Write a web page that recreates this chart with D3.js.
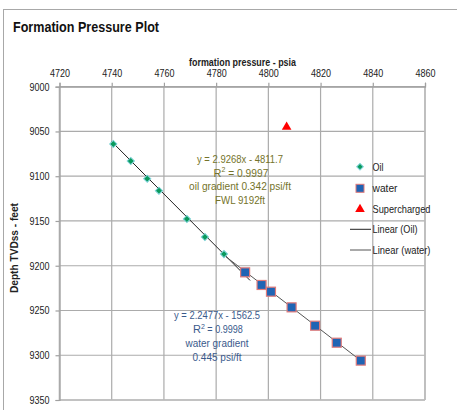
<!DOCTYPE html>
<html><head><meta charset="utf-8">
<script src="https://cdn.jsdelivr.net/npm/d3@7"></script>
<style>
body{margin:0;background:#fff;}
svg{display:block;font-family:"Liberation Sans",Arial,sans-serif;}
</style></head>
<body>
<svg id="chart" width="457" height="410"></svg>
<script>
const xTicks = [4720,4740,4760,4780,4800,4820,4840,4860];
const yTicks = [9000,9050,9100,9150,9200,9250,9300,9350];
const oilPressure = [4740.6,4747.3,4753.6,4758.1,4768.8,4775.7,4783.0];
const oilDepth    = [9064,9083,9102.8,9116.2,9147.8,9167.9,9187];
const waterPressure = [4791.1,4797.4,4801.0,4808.9,4817.9,4826.2,4835.4];
const waterDepth    = [9207.4,9221.5,9229,9246.5,9267,9286,9306];
const superPressure = [4807];
const superDepth    = [9045];
const oilFit = {slope:2.9268, intercept:-4811.7, from:4740, to:4793};
const waterFit = {slope:2.2477, intercept:-1562.5, from:4783, to:4837};
const oilText = ["y = 2.9268x - 4811.7","R² = 0.9997","oil gradient 0.342 psi/ft","FWL 9192ft"];
const waterText = ["y = 2.2477x - 1562.5","R² = 0.9998","water gradient","0.445 psi/ft"];
const legendItems = ["Oil","water","Supercharged","Linear (Oil)","Linear (water)"];

const svg = d3.select("#chart");
const x = d3.scaleLinear().domain([4720,4860]).range([59.5,425]);
const y = d3.scaleLinear().domain([9000,9350]).range([86.7,400]);

function fitText(sel, w){ return sel.attr("textLength",w).attr("lengthAdjust","spacingAndGlyphs"); }

// outer frame
svg.append("rect").attr("x",3.5).attr("y",9.5).attr("width",470).attr("height",420)
  .attr("fill","none").attr("stroke","#a8a8a8").attr("stroke-width",1);

fitText(svg.append("text").attr("x",13).attr("y",31.5).attr("font-size",15).attr("font-weight","bold")
  .attr("fill","#111").text("Formation Pressure Plot"),146);

// gridlines
const grid = svg.append("g").attr("stroke","#ababab").attr("stroke-width",1.2);
xTicks.forEach(t=>grid.append("line").attr("x1",x(t)).attr("x2",x(t)).attr("y1",y(9000)).attr("y2",y(9350)));
yTicks.forEach(t=>grid.append("line").attr("x1",x(4720)).attr("x2",x(4860)).attr("y1",y(t)).attr("y2",y(t)));
svg.append("line").attr("x1",x(4720)).attr("x2",x(4720)).attr("y1",y(9000)).attr("y2",y(9350)).attr("stroke","#bbb").attr("stroke-width",1.5);
svg.append("line").attr("x1",x(4860)).attr("x2",x(4860)).attr("y1",y(9000)).attr("y2",y(9350)).attr("stroke","#bbb").attr("stroke-width",1.5);
svg.append("line").attr("x1",x(4720)).attr("x2",x(4860)).attr("y1",y(9350)).attr("y2",y(9350)).attr("stroke","#bbb").attr("stroke-width",1.5);

// axes
const xAxis = svg.append("g").attr("transform",`translate(0,${y(9000)})`)
  .call(d3.axisTop(x).tickValues(xTicks).tickFormat(d3.format("d")).tickSize(4).tickPadding(6));
const yAxis = svg.append("g").attr("transform",`translate(${x(4720)},0)`)
  .call(d3.axisLeft(y).tickValues(yTicks).tickFormat(d3.format("d")).tickSize(4).tickPadding(6));
[xAxis,yAxis].forEach(a=>{
  a.select(".domain").attr("stroke","#a0a0a0").attr("stroke-width",1.2);
  a.selectAll(".tick line").attr("stroke","#a0a0a0").attr("stroke-width",1.2);
  a.selectAll(".tick text").attr("font-family","Liberation Sans, Arial, sans-serif").attr("font-size",10.5).attr("fill","#222")
    .attr("textLength",20).attr("lengthAdjust","spacingAndGlyphs");
});

fitText(svg.append("text").attr("x",189).attr("y",66).attr("font-size",11.5)
  .attr("font-weight","bold").attr("fill","#222").text("formation pressure - psia"),107);
fitText(svg.append("text").attr("transform","translate(18,293) rotate(-90)")
  .attr("font-size",11.5).attr("font-weight","bold").attr("fill","#222").text("Depth TVDss - feet"),90);

// trendlines
function fitLine(f,color){
  svg.append("line").attr("x1",x(f.from)).attr("y1",y(f.slope*f.from+f.intercept))
    .attr("x2",x(f.to)).attr("y2",y(f.slope*f.to+f.intercept))
    .attr("stroke",color).attr("stroke-width",1);
}
fitLine(oilFit,"#222");
fitLine(waterFit,"#555");

// markers
const diamond = d3.symbol().type(d3.symbolSquare).size(26);
oilPressure.forEach((p,i)=>{
  svg.append("path").attr("d",diamond())
    .attr("transform",`translate(${x(p)},${y(oilDepth[i])}) rotate(45)`)
    .attr("fill","#0a9a5c").attr("stroke","#7fd3d8").attr("stroke-width",1);
});
waterPressure.forEach((p,i)=>{
  svg.append("rect").attr("x",x(p)-4.5).attr("y",y(waterDepth[i])-4.5).attr("width",9).attr("height",9)
    .attr("fill","#1f64b4").attr("stroke","#e07a7a").attr("stroke-width",1.2);
});
const tri = d3.symbol().type(d3.symbolTriangle).size(40);
superPressure.forEach((p,i)=>{
  svg.append("path").attr("d",tri()).attr("transform",`translate(${x(p)},${y(superDepth[i])})`).attr("fill","#ff0000");
});

// annotations
function annot(lines, cx, ys, widths, color){
  const g = svg.append("g").attr("fill",color).attr("font-size",11);
  lines.forEach((t,i)=>{
    const tx = g.append("text").attr("x",cx - widths[i]/2).attr("y",ys[i]);
    if(t.startsWith("R²")){
      tx.append("tspan").text("R");
      tx.append("tspan").attr("dy",-4.5).attr("font-size",7).text("2");
      fitText(tx.append("tspan").attr("dy",4.5).text(t.slice(2)), widths[i]-10);
    } else fitText(tx.text(t), widths[i]);
  });
}
annot(oilText, 240, [163,176.5,190,203.5], [86,53,102,50], "#74732a");
annot(waterText, 217, [318.5,333,346.5,361], [86,48,63,49], "#3a5a8c");

// legend
const legYs = [166.7,188.3,209.3,229.3,250];
const legW = [11,25,58,45,58];
const lg = svg.append("g");
legendItems.forEach((name,i)=>{
  const ly = legYs[i];
  if(i===0) lg.append("path").attr("d",d3.symbol().type(d3.symbolSquare).size(22)()).attr("transform",`translate(360,${ly}) rotate(45)`).attr("fill","#0a9a5c").attr("stroke","#7fd3d8");
  if(i===1) lg.append("rect").attr("x",356).attr("y",ly-4).attr("width",8).attr("height",8).attr("fill","#1f64b4").attr("stroke","#e07a7a");
  if(i===2) lg.append("path").attr("d",tri()).attr("transform",`translate(360,${ly})`).attr("fill","#ff0000");
  if(i===3) lg.append("line").attr("x1",350).attr("x2",371).attr("y1",ly).attr("y2",ly).attr("stroke","#222");
  if(i===4) lg.append("line").attr("x1",350).attr("x2",371).attr("y1",ly).attr("y2",ly).attr("stroke","#555");
  fitText(lg.append("text").attr("x",372.5).attr("y",ly+4).attr("font-size",11).attr("fill","#222").text(name), legW[i]);
});
</script>
</body></html>
